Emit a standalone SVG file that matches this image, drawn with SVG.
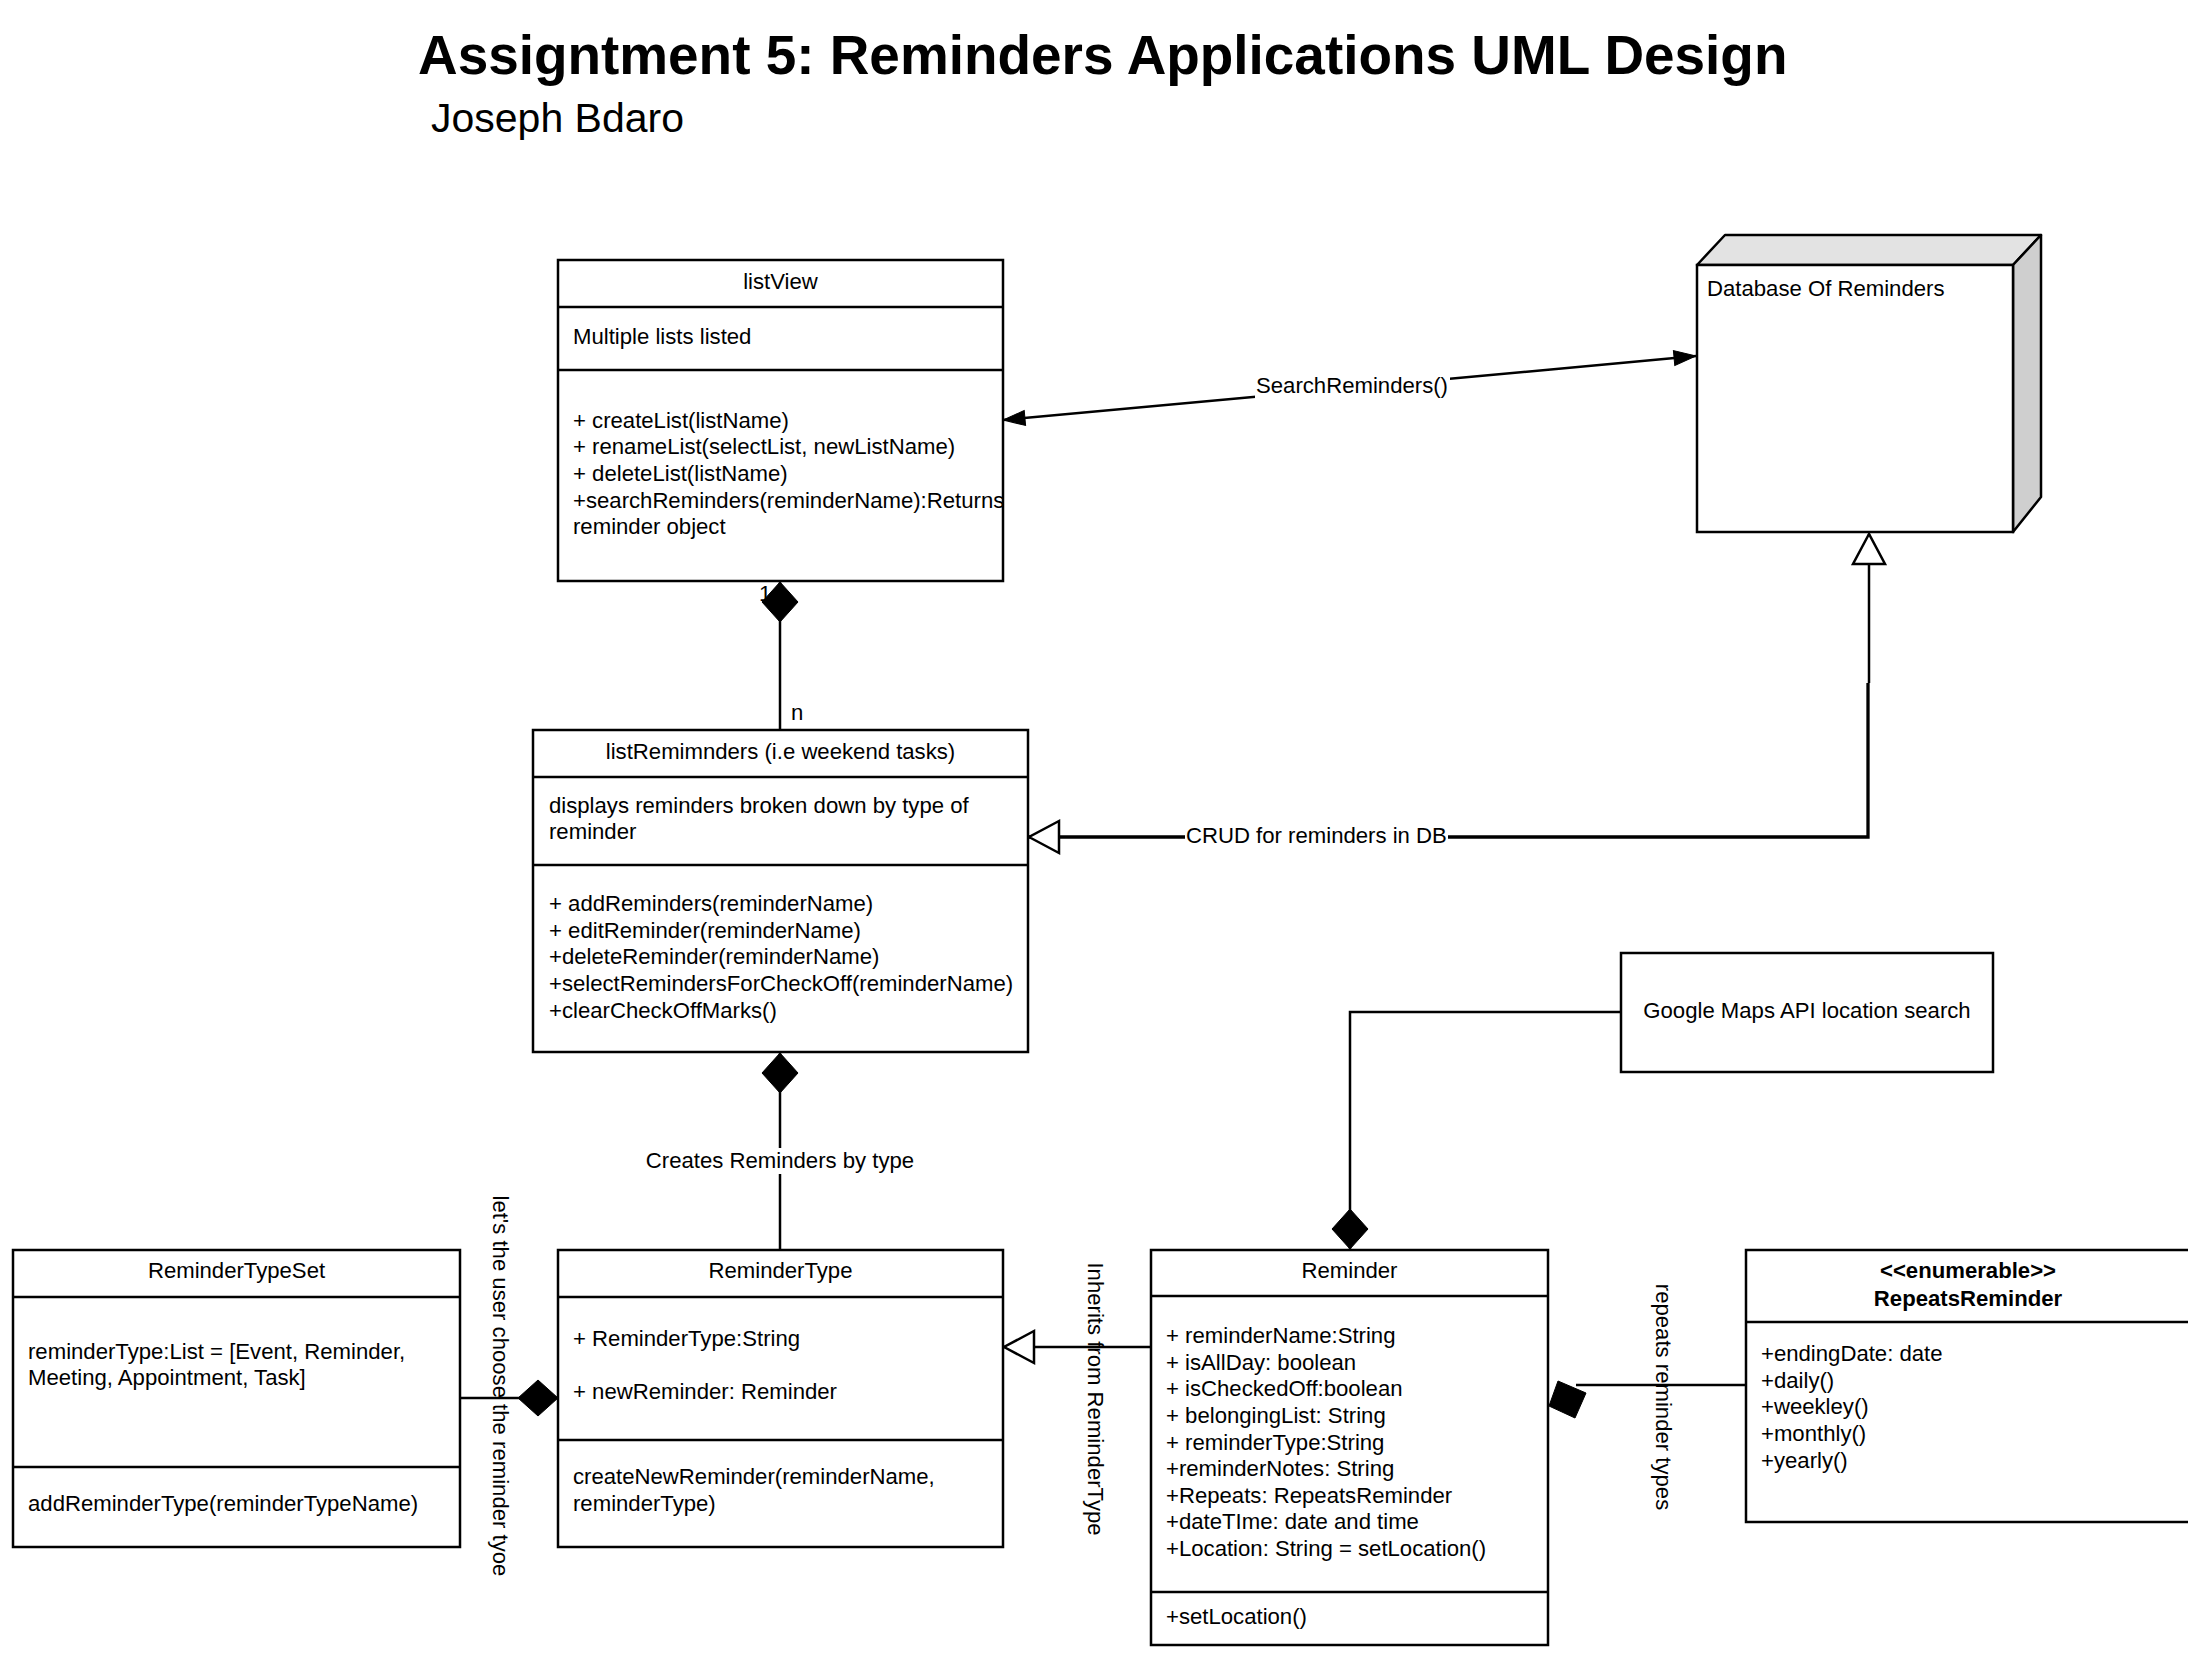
<svg xmlns="http://www.w3.org/2000/svg" width="2188" height="1662" viewBox="0 0 2188 1662">
<style>
.box{fill:#fff;stroke:#000;stroke-width:2.5}
.div{stroke:#000;stroke-width:2.5;fill:none}
.t{font-family:"Liberation Sans",Arial,sans-serif;font-size:22.15px;fill:#000}
.c{text-anchor:middle}
.b{font-weight:bold}
.conn{fill:none;stroke:#000;stroke-width:2.5}
.thick{stroke-width:3.3}
.lbg{fill:#fff;stroke:none}
.solid{fill:#000;stroke:#000;stroke-width:1}
</style>
<defs>
<marker id="dia" markerUnits="userSpaceOnUse" markerWidth="60" markerHeight="60" orient="auto" overflow="visible" refX="0" refY="0">
<path d="M0,0 L-20,-18 L-40,0 L-20,18 Z" fill="#000" stroke="#000" stroke-width="1"/>
</marker>
<marker id="tri" markerUnits="userSpaceOnUse" markerWidth="60" markerHeight="60" orient="auto-start-reverse" overflow="visible" refX="0" refY="0">
<path d="M0,0 L-30,-16 L-30,16 Z" fill="#fff" stroke="#000" stroke-width="2.5"/>
</marker>
<marker id="arr" markerUnits="userSpaceOnUse" markerWidth="60" markerHeight="60" orient="auto-start-reverse" overflow="visible" refX="0" refY="0">
<path d="M0,0 L-22,-7.5 L-22,7.5 Z" fill="#000" stroke="#000" stroke-width="1"/>
</marker>
</defs>
<rect width="2188" height="1662" fill="#fff"/>

<g id="title">
<text class="t b" x="418" y="74" style="font-size:54.9px">Assigntment 5: Reminders Applications UML Design</text>
<text class="t" x="431" y="132" style="font-size:41px">Joseph Bdaro</text>
</g>

<g id="connectors">
<path class="conn" d="M1003,420 L1696,356" marker-start="url(#arr)" marker-end="url(#arr)"/>
<rect class="lbg" x="1255" y="374" width="195" height="24"/>
<text class="t" x="1256" y="393">SearchReminders()</text>

<path class="conn" d="M1869,534 L1869,683" marker-start="url(#tri)"/>
<path class="conn thick" d="M1868,683 L1868,837 L1029,837" marker-end="url(#tri)"/>
<rect class="lbg" x="1185" y="822" width="263" height="26"/>
<text class="t" x="1186" y="843">CRUD for reminders in DB</text>

<path class="conn" d="M780,730 L780,582" marker-end="url(#dia)"/>
<text class="t" x="759" y="601">1</text>
<text class="t" x="791" y="720">n</text>

<path class="conn" d="M780,1250 L780,1053" marker-end="url(#dia)"/>
<rect class="lbg" x="644" y="1148" width="273" height="26"/>
<text class="t c" x="780" y="1168">Creates Reminders by type</text>

<path class="conn" d="M460,1398 L558,1398" marker-end="url(#dia)"/>
<text class="t c" transform="translate(493,1386) rotate(90)" x="0" y="0">let's the user choose the reminder tyoe</text>

<path class="conn" d="M1151,1347 L1004,1347" marker-end="url(#tri)"/>
<text class="t c" transform="translate(1088,1399) rotate(90)" x="0" y="0">Inherits from ReminderType</text>

<path class="conn" d="M1621,1012 L1350,1012 L1350,1249" marker-end="url(#dia)"/>

<path class="conn" d="M1746,1385 L1576,1385"/>
<polygon class="solid" points="1558,1381 1586,1393 1575,1418 1549,1406"/>
<text class="t c" transform="translate(1656,1397) rotate(90)" x="0" y="0">repeats reminder types</text>
</g>

<g id="listView">
<rect class="box" x="558" y="260" width="445" height="321"/>
<path class="div" d="M558,307 H1003 M558,370 H1003"/>
<text class="t c" x="780.5" y="289">listView</text>
<text class="t" x="573" y="344">Multiple lists listed</text>
<text class="t" x="573" y="428">+ createList(listName)</text>
<text class="t" x="573" y="454">+ renameList(selectList, newListName)</text>
<text class="t" x="573" y="481">+ deleteList(listName)</text>
<text class="t" x="573" y="508">+searchReminders(reminderName):Returns</text>
<text class="t" x="573" y="534">reminder object</text>
</g>

<g id="database">
<polygon points="1697,265 1725,235 2041,235 2013,265" fill="#e3e3e3" stroke="#000" stroke-width="2.5" stroke-linejoin="round"/>
<polygon points="2013,265 2041,235 2041,497 2013,532" fill="#cfcfcf" stroke="#000" stroke-width="2.5" stroke-linejoin="round"/>
<rect class="box" x="1697" y="265" width="316" height="267"/>
<text class="t" x="1707" y="296">Database Of Reminders</text>
</g>

<g id="listReminders">
<rect class="box" x="533" y="730" width="495" height="322"/>
<path class="div" d="M533,777 H1028 M533,865 H1028"/>
<text class="t c" x="780.5" y="759">listRemimnders (i.e weekend tasks)</text>
<text class="t" x="549" y="813">displays reminders broken down by type of</text>
<text class="t" x="549" y="839">reminder</text>
<text class="t" x="549" y="911">+ addReminders(reminderName)</text>
<text class="t" x="549" y="938">+ editReminder(reminderName)</text>
<text class="t" x="549" y="964">+deleteReminder(reminderName)</text>
<text class="t" x="549" y="991">+selectRemindersForCheckOff(reminderName)</text>
<text class="t" x="549" y="1018">+clearCheckOffMarks()</text>
</g>

<g id="ReminderTypeSet">
<rect class="box" x="13" y="1250" width="447" height="297"/>
<path class="div" d="M13,1297 H460 M13,1467 H460"/>
<text class="t c" x="236.5" y="1278">ReminderTypeSet</text>
<text class="t" x="28" y="1359">reminderType:List = [Event, Reminder,</text>
<text class="t" x="28" y="1385">Meeting, Appointment, Task]</text>
<text class="t" x="28" y="1511">addReminderType(reminderTypeName)</text>
</g>

<g id="ReminderType">
<rect class="box" x="558" y="1250" width="445" height="297"/>
<path class="div" d="M558,1297 H1003 M558,1440 H1003"/>
<text class="t c" x="780.5" y="1278">ReminderType</text>
<text class="t" x="573" y="1346">+ ReminderType:String</text>
<text class="t" x="573" y="1399">+ newReminder: Reminder</text>
<text class="t" x="573" y="1484">createNewReminder(reminderName,</text>
<text class="t" x="573" y="1511">reminderType)</text>
</g>

<g id="Reminder">
<rect class="box" x="1151" y="1250" width="397" height="395"/>
<path class="div" d="M1151,1296 H1548 M1151,1592 H1548"/>
<text class="t c" x="1349.5" y="1278">Reminder</text>
<text class="t" x="1166" y="1343">+ reminderName:String</text>
<text class="t" x="1166" y="1370">+ isAllDay: boolean</text>
<text class="t" x="1166" y="1396">+ isCheckedOff:boolean</text>
<text class="t" x="1166" y="1423">+ belongingList: String</text>
<text class="t" x="1166" y="1450">+ reminderType:String</text>
<text class="t" x="1166" y="1476">+reminderNotes: String</text>
<text class="t" x="1166" y="1503">+Repeats: RepeatsReminder</text>
<text class="t" x="1166" y="1529">+dateTIme: date and time</text>
<text class="t" x="1166" y="1556">+Location: String = setLocation()</text>
<text class="t" x="1166" y="1624">+setLocation()</text>
</g>

<g id="GoogleMaps">
<rect class="box" x="1621" y="953" width="372" height="119"/>
<text class="t c" x="1807" y="1018">Google Maps API location search</text>
</g>

<g id="RepeatsReminder">
<rect class="box" x="1746" y="1250" width="444" height="272"/>
<path class="div" d="M1746,1322 H2190"/>
<text class="t c b" x="1968" y="1278">&lt;&lt;enumerable&gt;&gt;</text>
<text class="t c b" x="1968" y="1306">RepeatsReminder</text>
<text class="t" x="1761" y="1361">+endingDate: date</text>
<text class="t" x="1761" y="1388">+daily()</text>
<text class="t" x="1761" y="1414">+weekley()</text>
<text class="t" x="1761" y="1441">+monthly()</text>
<text class="t" x="1761" y="1468">+yearly()</text>
</g>
</svg>
